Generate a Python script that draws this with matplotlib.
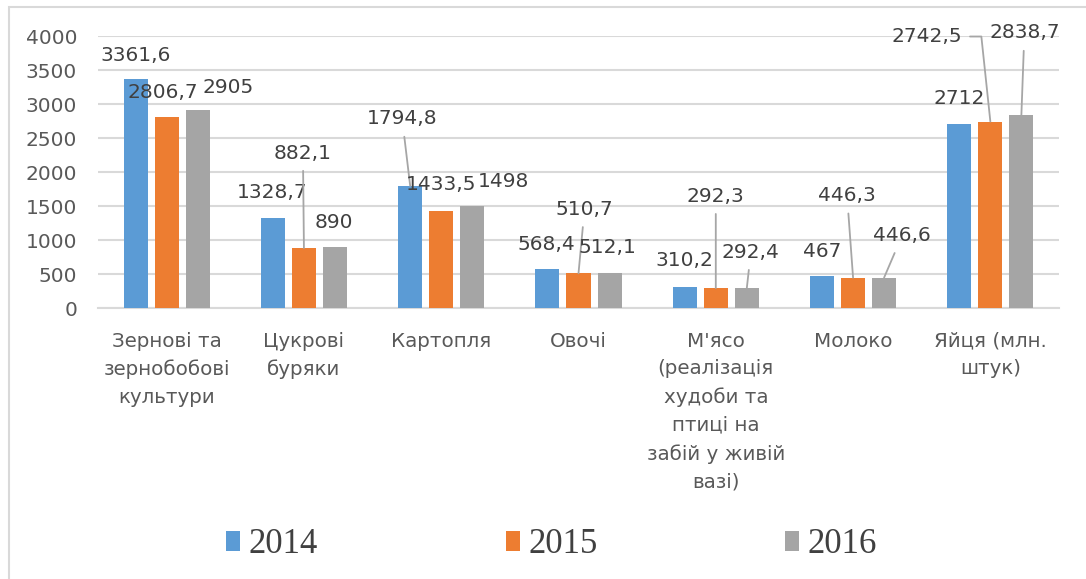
import matplotlib
matplotlib.use("Agg")
import matplotlib.pyplot as plt
from matplotlib.patches import Rectangle, Patch
import numpy as np

# categories and values
categories = ["Зернові та\nзернобобові\nкультури", "Цукрові\nбуряки", "Картопля",
              "Овочі", "М'ясо\n(реалізація\nхудоби та\nптиці на\nзабій у живій\nвазі)",
              "Молоко", "Яйця (млн.\nштук)"]
years = ["2014", "2015", "2016"]
v2014 = [3361.6, 1328.7, 1794.8, 568.4, 310.2, 467, 2712]
v2015 = [2806.7, 882.1, 1433.5, 510.7, 292.3, 446.3, 2742.5]
v2016 = [2905, 890, 1498, 512.1, 292.4, 446.6, 2838.7]
yticks = [0, 500, 1000, 1500, 2000, 2500, 3000, 3500, 4000]

colors = ["#5B9BD5", "#ED7D31", "#A5A5A5"]
grid_col = "#d9d9d9"
text_col = "#595959"
label_col = "#404040"

# label offsets from bar tops (pixels) as moved in the original, and leader flags
offs = [
    [(0, 24), (-1, 25), (-8, 67), (-1, 25), (0, 26), (0, 25), (0, 25)],
    [(-4, 25), (-1, 95), (0, 26), (6, 64), (0, 92), (-6, 82), (-64, 85)],
    [(30, 23), (-1, 25), (31, 25), (-2, 26), (4, 36), (18, 42), (3, 82)],
]
leaders = [
    [0, 0, 1, 0, 0, 0, 0],
    [0, 1, 0, 1, 1, 1, 1],
    [0, 0, 0, 0, 1, 1, 1],
]


def fmt(v):
    s = ("%.1f" % v).rstrip("0").rstrip(".")
    return s.replace(".", ",")


fig = plt.figure(figsize=(10.86, 5.79), dpi=100)
ax = fig.add_axes([98 / 1086, 271 / 579, 961 / 1086, 272 / 579])

x = np.arange(len(categories))
step = 0.226
width = 0.175
series = [v2014, v2015, v2016]
for j, vals in enumerate(series):
    xs = x + (j - 1) * step
    ax.bar(xs, vals, width, color=colors[j], zorder=3)
    for i, v in enumerate(vals):
        dx, dy = offs[j][i]
        props = None
        if leaders[j][i]:
            cs = "arc3,rad=0"
            if j == 1 and i == 6:
                # elbow leader: short horizontal run, then down to the bar
                cs = "arc,angleA=0,armA=55,angleB=0,armB=0,rad=0"
            props = dict(arrowstyle="-", color="#a6a6a6", lw=1.3,
                         shrinkA=4, shrinkB=0, connectionstyle=cs)
        ax.annotate(fmt(v), xy=(xs[i], v), xytext=(dx, dy),
                    textcoords="offset pixels", ha="center", va="center",
                    fontsize=14.5, color=label_col, family="DejaVu Sans",
                    arrowprops=props, annotation_clip=False, zorder=5)

ax.set_xlim(-0.5, len(categories) - 0.5)
ax.set_ylim(0, 4000)
ax.set_yticks(yticks)
ax.set_yticklabels([str(t) for t in yticks], fontsize=14.5, color=text_col)
ax.set_xticks(x)
ax.set_xticklabels(categories, fontsize=14.3, color=text_col, linespacing=1.58,
                   multialignment="center")
ax.tick_params(axis="both", length=0)
ax.tick_params(axis="y", pad=15)
ax.tick_params(axis="x", pad=17)
ax.yaxis.grid(True, color=grid_col, lw=1.5, zorder=0)
ax.set_axisbelow(True)
for s in ["top", "right", "left"]:
    ax.spines[s].set_visible(False)
ax.spines["bottom"].set_color(grid_col)
ax.spines["bottom"].set_linewidth(1.5)

handles = [Patch(facecolor=c, edgecolor="none") for c in colors]
fig.legend(handles, years, loc="center", bbox_to_anchor=(0.508, 0.059), ncol=3,
           frameon=False, prop={"family": "Liberation Serif", "size": 25},
           labelcolor=label_col, handlelength=0.4, handleheight=0.5,
           handletextpad=0.25, columnspacing=5.4)

# chart frame
fig.patches.append(Rectangle((9 / 1086, -0.1), 1.2, 1.1 - 7 / 579, fill=False,
                             edgecolor=grid_col, lw=1.5, transform=fig.transFigure))

fig.savefig("out.png", dpi=100)
